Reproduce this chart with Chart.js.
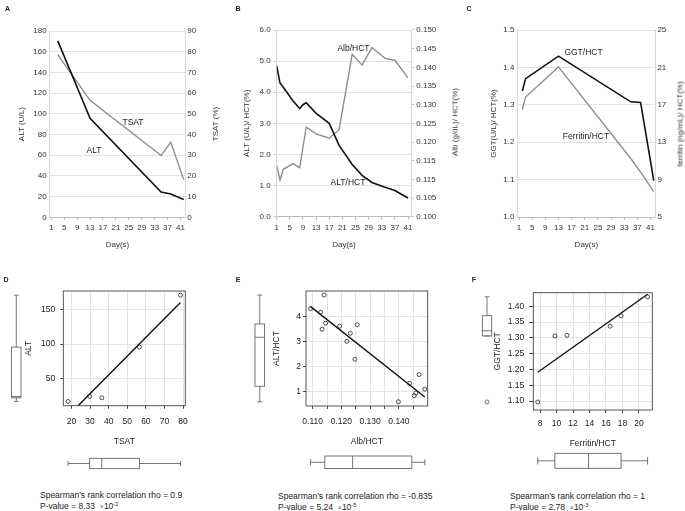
<!DOCTYPE html>
<html>
<head>
<meta charset="utf-8">
<script src="https://cdn.jsdelivr.net/npm/chart.js@4.4.1/dist/chart.umd.min.js"></script>
<style>
  body { margin: 0; background: #fff; }
  #wrap { position: relative; width: 685px; height: 511px; overflow: hidden; font-family: "Liberation Sans", Arial, sans-serif; color: #222; }
  canvas { position: absolute; }
  .t { position: absolute; white-space: nowrap; font-size: 8.5px; transform: translate(-50%, -50%); }
  .v { position: absolute; white-space: nowrap; font-size: 8px; color: #333; transform: translate(-50%, -50%) rotate(-90deg); }
  .p { position: absolute; font-weight: bold; font-size: 7px; transform: translate(-50%, -50%); }
  .cap { position: absolute; white-space: nowrap; font-size: 8.5px; transform: translateY(-50%); }
  .cap sup { font-size: 5.5px; }
  .x { color: #666; font-size: 7px; }
</style>
</head>
<body>
<div id="wrap">
  <canvas id="cA" width="228" height="255" style="left:0;top:0"></canvas>
  <canvas id="cB" width="228" height="255" style="left:228px;top:0"></canvas>
  <canvas id="cC" width="229" height="255" style="left:456px;top:0"></canvas>
  <canvas id="cD" width="228" height="200" style="left:0;top:270px"></canvas>
  <canvas id="cE" width="228" height="200" style="left:228px;top:270px"></canvas>
  <canvas id="cF" width="229" height="200" style="left:456px;top:270px"></canvas>

  <div class="p" style="left:7.5px;top:8px">A</div>
  <div class="p" style="left:238px;top:8px">B</div>
  <div class="p" style="left:469px;top:8px">C</div>
  <div class="p" style="left:6px;top:279px">D</div>
  <div class="p" style="left:238px;top:279px">E</div>
  <div class="p" style="left:474px;top:279px">F</div>

  <div class="v" style="left:215px;top:124px">TSAT (%)</div>
  <div class="v" style="left:455px;top:122px">Alb (g/dL)/ HCT(%)</div>
  <div class="v" style="left:679.5px;top:124px">ferritin (ng/mL)/ HCT(%)</div>

  <div class="t" style="left:133px;top:121.5px">TSAT</div>
  <div class="t" style="left:94px;top:150px">ALT</div>
  <div class="t" style="left:353.5px;top:47.5px">Alb/HCT</div>
  <div class="t" style="left:348px;top:182px">ALT/HCT</div>
  <div class="t" style="left:583.5px;top:51.5px">GGT/HCT</div>
  <div class="t" style="left:586px;top:136px">Ferritin/HCT</div>

  <div class="cap" style="left:40px;top:495px">Spearman's rank correlation rho = 0.9</div>
  <div class="cap" style="left:40px;top:505.5px">P-value = 8.33 &nbsp;<span class="x">×</span>10<sup>-2</sup></div>
  <div class="cap" style="left:278px;top:496px">Spearman's rank correlation rho = -0.835</div>
  <div class="cap" style="left:278px;top:506.5px">P-value = 5.24 &nbsp;<span class="x">×</span>10<sup>-5</sup></div>
  <div class="cap" style="left:510px;top:496px">Spearman's rank correlation rho = 1</div>
  <div class="cap" style="left:510px;top:506.5px">P-value = 2.78 &nbsp;<span class="x">×</span>10<sup>-3</sup></div>
</div>
<script>
const dayTicks = [1, 5, 9, 13, 17, 21, 25, 29, 33, 37, 41];

// panel A and D: ALT and TSAT
const daysA = [3, 13, 35, 38, 42];
const altA = [170.5, 95.7, 24.5, 22.6, 17.3];
const tsatA = [78.6, 56.5, 29.8, 36.3, 18.2];

// panel B and E: ALT/HCT and Alb/HCT
const daysB = [1, 2, 3, 6, 8, 9, 10, 13, 17, 20, 24, 27, 30, 34, 37, 41];
const altHct = [4.84, 4.30, 4.16, 3.72, 3.48, 3.60, 3.66, 3.32, 3.00, 2.29, 1.68, 1.33, 1.10, 0.95, 0.84, 0.60];
const albHctB = [0.1137, 0.1098, 0.1127, 0.1142, 0.1131, 0.1186, 0.1240, 0.1222, 0.1210, 0.1233, 0.1435, 0.1406, 0.1453, 0.1424, 0.1419, 0.1372];
const albHctE = [0.1140, 0.1093, 0.1128, 0.1145, 0.1133, 0.1194, 0.1255, 0.1231, 0.1219, 0.1247, 0.1470, 0.1437, 0.1490, 0.1459, 0.1453, 0.1398];
const albTickLabels = ['0.100', '0.105', '0.115', '0.115', '0.120', '0.125', '0.130', '0.135', '0.140', '0.145', '0.150'];

// panel C and F: GGT/HCT and Ferritin/HCT
const daysC = [2, 3, 13, 35, 38, 42];
const ggtHct = [1.337, 1.370, 1.430, 1.308, 1.306, 1.097];
const ferHct = [16.5, 17.83, 21.05, 11.26, 9.8, 7.72];

Chart.defaults.font.family = '"Liberation Sans", Arial, sans-serif';
Chart.defaults.font.size = 8;
Chart.defaults.color = '#333';

const pts = (xs, ys) => xs.map((x, i) => ({ x, y: ys[i] }));
const setTicks = vals => s => { s.ticks = vals.map(v => ({ value: v })); };
const fixW = w => s => { s.width = w; };
const fixH = h => s => { s.height = h; };

function timeChart(id, o) {
  const W = o.w, H = 255, a = o.area;
  return new Chart(document.getElementById(id), {
    type: 'line',
    data: {
      datasets: [
        { data: pts(o.days, o.black), yAxisID: 'y', borderColor: '#111', borderWidth: 1.6 },
        { data: pts(o.days, o.gray), yAxisID: 'y1', borderColor: '#8e8e8e', borderWidth: 1.4 }
      ]
    },
    options: {
      responsive: false,
      animation: false,
      layout: { padding: { top: a.top, left: 0, right: 0, bottom: 0 } },
      elements: { point: { radius: 0 }, line: { tension: 0 } },
      plugins: { legend: { display: false }, tooltip: { enabled: false } },
      scales: {
        x: {
          type: 'linear', min: o.xmin, max: o.xmax,
          afterBuildTicks: setTicks(dayTicks),
          afterFit: fixH(H - a.bottom),
          grid: { drawOnChartArea: false, color: '#bdbdbd', tickLength: 3 },
          border: { color: '#bdbdbd' },
          ticks: { padding: 3, maxRotation: 0, autoSkip: false },
          title: { display: true, text: 'Day(s)', padding: { top: 0, bottom: 5 } }
        },
        y: {
          position: 'left', min: o.y.min, max: o.y.max,
          ticks: { stepSize: o.y.step, padding: 3, callback: o.y.fmt },
          afterFit: fixW(a.left),
          grid: { color: '#e2e2e2', drawTicks: o.ticksY, tickLength: 3, tickColor: '#c8c8c8' },
          border: { color: '#d8d8d8' },
          title: { display: true, text: o.y.title, padding: { top: o.y.tpad, bottom: 0 } }
        },
        y1: {
          position: 'right', min: o.y1.min, max: o.y1.max,
          afterBuildTicks: o.y1.vals ? setTicks(o.y1.vals) : undefined,
          ticks: { stepSize: o.y1.step, padding: 2, callback: o.y1.fmt },
          afterFit: fixW(W - a.right),
          grid: { drawOnChartArea: false, drawTicks: o.ticksY, tickLength: 3, color: '#c8c8c8' },
          border: { color: '#d8d8d8' }
        }
      }
    }
  });
}

timeChart('cA', {
  w: 228, area: { left: 49.7, right: 185.3, top: 31, bottom: 217.3 },
  xmin: 0.5, xmax: 42.5, days: daysA, black: altA, gray: tsatA, ticksY: false,
  y: { min: 0, max: 180, step: 20, title: 'ALT (U/L)', tpad: 17 },
  y1: { min: 0, max: 90, step: 10 }
});

timeChart('cB', {
  w: 228, area: { left: 48.7, right: 183.3, top: 30, bottom: 216.7 },
  xmin: 1, xmax: 42, days: daysB, black: altHct, gray: albHctB, ticksY: true,
  y: { min: 0, max: 6, step: 1, fmt: v => v.toFixed(1), title: 'ALT (U/L)/ HCT(%)', tpad: 14 },
  y1: { min: 0.1, max: 0.15, vals: albTickLabels.map((_, i) => 0.1 + i * 0.005), fmt: (v, i) => albTickLabels[i] }
});

timeChart('cC', {
  w: 229, area: { left: 61.4, right: 199.4, top: 30, bottom: 217 },
  xmin: 0.5, xmax: 42.5, days: daysC, black: ggtHct, gray: ferHct, ticksY: false,
  y: { min: 1.0, max: 1.5, step: 0.1, fmt: v => v.toFixed(1), title: 'GGT(U/L)/ HCT(%)', tpad: 32.5 },
  y1: { min: 5, max: 25, step: 4 }
});

// Tukey five-number summary with 1.5 IQR whiskers, as R's boxplot
function boxStats(vals) {
  const s = [...vals].sort((a, b) => a - b), n = s.length;
  const n4 = Math.floor((n + 3) / 2) / 2;
  const f = [1, n4, (n + 1) / 2, n + 1 - n4, n].map(k => 0.5 * (s[Math.floor(k) - 1] + s[Math.ceil(k) - 1]));
  const iqr = f[3] - f[1];
  const inside = s.filter(v => v >= f[1] - 1.5 * iqr && v <= f[3] + 1.5 * iqr);
  return { q1: f[1], med: f[2], q3: f[3], lo: Math.min(...inside), hi: Math.max(...inside), out: s.filter(v => !inside.includes(v)) };
}

function drawBox(ctx, scale, st, c, half, vertical) {
  const P = (v, off) => vertical ? [c + off, scale.getPixelForValue(v)] : [scale.getPixelForValue(v), c + off];
  const seg = (p, q) => { ctx.beginPath(); ctx.moveTo(p[0], p[1]); ctx.lineTo(q[0], q[1]); ctx.stroke(); };
  const a = P(st.q1, -half), b = P(st.q3, half);
  ctx.strokeRect(Math.min(a[0], b[0]), Math.min(a[1], b[1]), Math.abs(b[0] - a[0]), Math.abs(b[1] - a[1]));
  seg(P(st.med, -half), P(st.med, half));
  seg(P(st.q3, 0), P(st.hi, 0));
  seg(P(st.q1, 0), P(st.lo, 0));
  seg(P(st.hi, -half / 2), P(st.hi, half / 2));
  seg(P(st.lo, -half / 2), P(st.lo, half / 2));
  st.out.forEach(v => {
    const q = P(v, 0);
    ctx.beginPath(); ctx.arc(q[0], q[1], 2, 0, Math.PI * 2); ctx.stroke();
  });
}

// least squares line drawn across the range of x
function fitLine(xs, ys) {
  const n = xs.length;
  const mx = xs.reduce((s, v) => s + v, 0) / n, my = ys.reduce((s, v) => s + v, 0) / n;
  let sxy = 0, sxx = 0;
  xs.forEach((x, i) => { sxy += (x - mx) * (ys[i] - my); sxx += (x - mx) * (x - mx); });
  const b = sxy / sxx, a0 = my - b * mx;
  const x0 = Math.min(...xs), x1 = Math.max(...xs);
  return [{ x: x0, y: a0 + b * x0 }, { x: x1, y: a0 + b * x1 }];
}

function corrChart(id, o) {
  const W = o.w, H = 200, a = o.area;
  const boxes = {
    id: 'boxes',
    afterDraw(chart) {
      const ctx = chart.ctx, ca = chart.chartArea;
      ctx.save();
      ctx.strokeStyle = '#444';
      ctx.lineWidth = 0.9;
      ctx.strokeRect(ca.left, ca.top, ca.right - ca.left, ca.bottom - ca.top);
      ctx.strokeStyle = '#555';
      ctx.lineWidth = 0.8;
      drawBox(ctx, chart.scales.y, boxStats(o.ys), o.leftX, o.leftHalf, true);
      drawBox(ctx, chart.scales.x, boxStats(o.xs), o.bottomY, o.bottomHalf, false);
      ctx.restore();
    }
  };
  return new Chart(document.getElementById(id), {
    type: 'scatter',
    data: {
      datasets: [
        { data: pts(o.xs, o.ys), pointRadius: 2, borderColor: '#222', borderWidth: 0.8, backgroundColor: 'rgba(0,0,0,0)' },
        { type: 'line', data: fitLine(o.xs, o.ys), borderColor: '#111', borderWidth: 1.4, pointRadius: 0 }
      ]
    },
    plugins: [boxes],
    options: {
      responsive: false,
      animation: false,
      layout: { padding: { top: a.top, left: 0, right: W - a.right, bottom: 0 } },
      plugins: { legend: { display: false }, tooltip: { enabled: false } },
      scales: {
        x: {
          type: 'linear', min: o.x.min, max: o.x.max,
          afterBuildTicks: setTicks(o.x.vals),
          afterFit: fixH(H - a.bottom),
          grid: { color: '#e3e3e3', tickColor: '#444', tickLength: 3 },
          border: { display: false },
          ticks: { padding: o.x.pad, maxRotation: 0, autoSkip: false, font: { size: 8.5 }, color: '#222', callback: o.x.fmt },
          title: { display: true, text: o.x.title, color: '#222', font: { size: 8.5 }, padding: { top: 0, bottom: o.x.tpad } }
        },
        y: {
          min: o.y.min, max: o.y.max,
          afterBuildTicks: setTicks(o.y.vals),
          afterFit: fixW(a.left),
          grid: { color: '#e3e3e3', tickColor: '#444', tickLength: o.y.tl },
          border: { display: false },
          ticks: { padding: o.y.pad, font: { size: 8.5 }, color: '#222', callback: o.y.fmt },
          title: { display: true, text: o.y.title, color: '#222', font: { size: 8.5 }, padding: { top: o.y.tpad, bottom: 0 } }
        }
      }
    }
  });
}

corrChart('cD', {
  w: 228, area: { left: 63.3, right: 185.3, top: 21, bottom: 135.7 },
  xs: tsatA, ys: altA, leftX: 16.3, leftHalf: 4.7, bottomY: 193.5, bottomHalf: 5.2,
  x: { min: 15.6, max: 81.2, vals: [20, 30, 40, 50, 60, 70, 80], pad: 8, title: 'TSAT', tpad: 23 },
  y: { min: 11.2, max: 176.6, vals: [50, 100, 150], tl: 3, pad: 5, title: 'ALT', tpad: 24 }
});

corrChart('cE', {
  w: 228, area: { left: 78, right: 199.7, top: 21, bottom: 136 },
  xs: albHctE, ys: altHct, leftX: 31.8, leftHalf: 4.8, bottomY: 192.3, bottomHalf: 6.3,
  x: { min: 0.1077, max: 0.1500, vals: [0.110, 0.115, 0.120, 0.125, 0.130, 0.135, 0.140, 0.145], pad: 8,
       fmt: (v, i) => i % 2 === 0 ? v.toFixed(3) : '', title: 'Alb/HCT', tpad: 23 },
  y: { min: 0.43, max: 5.0, vals: [1, 2, 3, 4], tl: 3, pad: 2, title: 'ALT/HCT', tpad: 44 }
});

corrChart('cF', {
  w: 229, area: { left: 77.3, right: 196.3, top: 22.7, bottom: 140 },
  xs: ferHct, ys: ggtHct, leftX: 31, leftHalf: 4.7, bottomY: 190.8, bottomHalf: 7.5,
  x: { min: 7.18, max: 21.62, vals: [8, 10, 12, 14, 16, 18, 20], pad: 6, title: 'Ferritin/HCT', tpad: 21 },
  y: { min: 1.0715, max: 1.443, vals: [1.10, 1.15, 1.20, 1.25, 1.30, 1.35, 1.40], tl: 4, pad: 5,
       fmt: v => v.toFixed(2), title: 'GGT/HCT', tpad: 37 }
});
</script>
</body>
</html>
